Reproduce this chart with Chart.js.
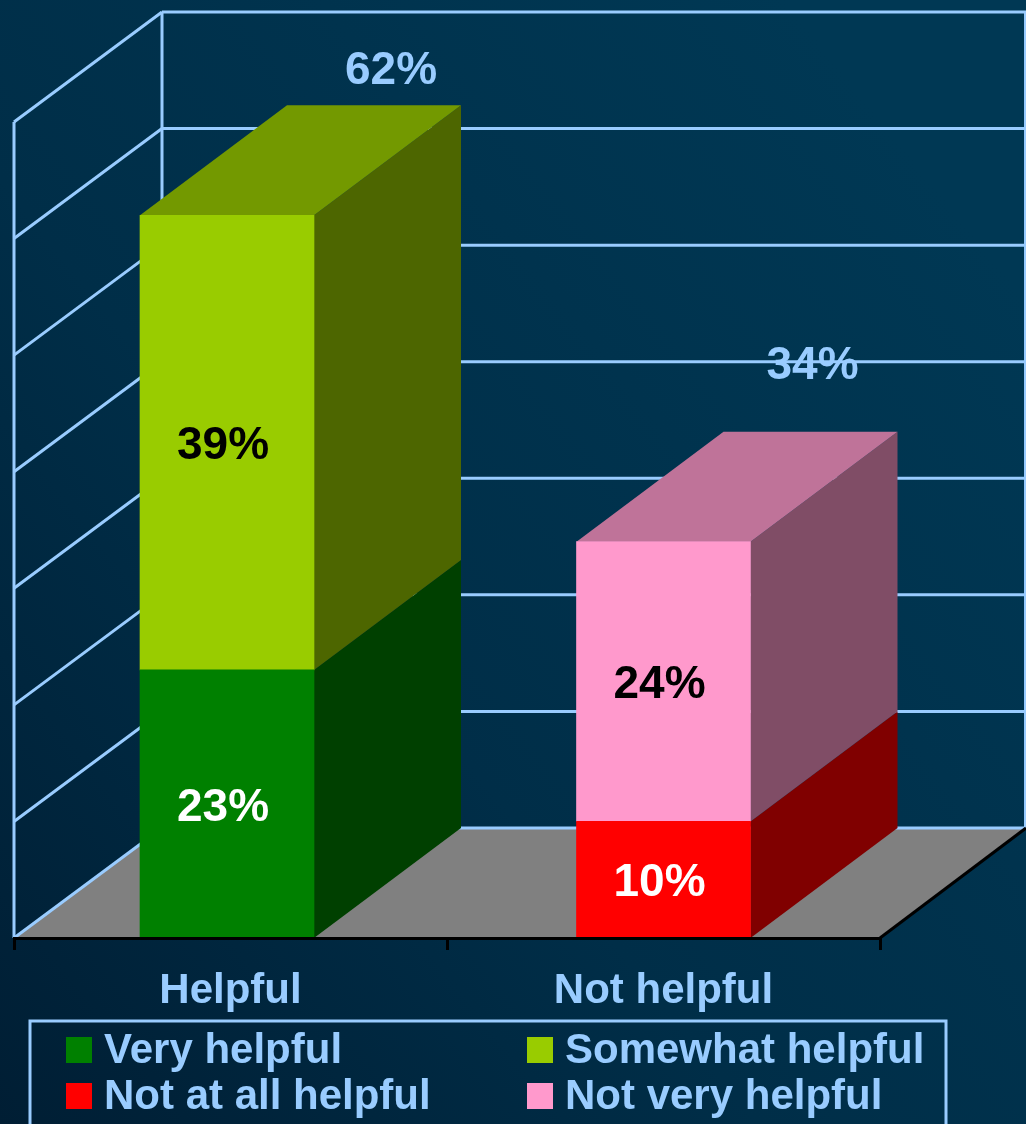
<!DOCTYPE html>
<html>
<head>
<meta charset="utf-8">
<style>
  html, body { margin: 0; padding: 0; background: #002b44; overflow: hidden; }
  canvas { display: block; }
</style>
<script src="https://cdn.jsdelivr.net/npm/chart.js@4"></script>
</head>
<body>
<canvas id="chart" width="1026" height="1124"></canvas>
<script>
// Values
const categories = ["Helpful", "Not helpful"];
const veryHelpful = [23, null];
const somewhatHelpful = [39, null];
const notAtAllHelpful = [null, 10];
const notVeryHelpful = [null, 24];
const totals = [62, 34];
const yMax = 70;
const yStep = 10;

// Look of the fake 3D box
const depthX = 147;
const depthY = 110;
const wallX = 148;                  // left corner of the back wall
const lineBlue = "#99CCFF";
const barShift = [-3.5, 0];         // first bar sits slightly left of its slot
const totalOffsetX = [164, 149];    // total label from bar centre
const totalOffsetY = [147, 178];    // total label above bar top
const labelFont = "bold 46px 'Liberation Sans', Arial, sans-serif";
const legendFont = "bold 42px 'Liberation Sans', Arial, sans-serif";

// Darken a hex colour for the side and top faces
function shade(hex, f) {
  const n = parseInt(hex.slice(1), 16);
  const r = Math.round((n >> 16 & 255) * f);
  const g = Math.round((n >> 8 & 255) * f);
  const b = Math.round((n & 255) * f);
  return "rgb(" + r + "," + g + "," + b + ")";
}

function poly(ctx, pts, fill) {
  ctx.beginPath();
  pts.forEach((p, i) => i ? ctx.lineTo(p[0], p[1]) : ctx.moveTo(p[0], p[1]));
  ctx.closePath();
  ctx.fillStyle = fill;
  ctx.fill();
}

function line(ctx, x1, y1, x2, y2, color, width) {
  ctx.beginPath();
  ctx.moveTo(x1, y1);
  ctx.lineTo(x2, y2);
  ctx.strokeStyle = color;
  ctx.lineWidth = width;
  ctx.stroke();
}

const box3d = {
  id: "box3d",
  // background
  beforeDraw(chart) {
    const ctx = chart.ctx;
    const g = ctx.createLinearGradient(0, 1124, 1026, 300);
    g.addColorStop(0, "#001e34");
    g.addColorStop(0.45, "#002e48");
    g.addColorStop(1, "#003854");
    ctx.fillStyle = g;
    ctx.fillRect(0, 0, chart.width, chart.height);
  },
  afterDatasetsUpdate(chart) {
    chart.data.datasets.forEach((ds, i) => {
      chart.getDatasetMeta(i).data.forEach((el, j) => { el.x += barShift[j]; });
    });
  },
  // floor, walls, then side and top faces behind the front of the bars
  beforeDatasetsDraw(chart) {
    const ctx = chart.ctx;
    const { left, right, bottom } = chart.chartArea;
    const y = chart.scales.y;
    const wallRight = right + 146;
    poly(ctx, [[left, bottom], [left + wallX, bottom - depthY], [wallRight, bottom - depthY], [right, bottom]], "#808080");
    y.ticks.forEach(t => {
      const py = y.getPixelForValue(t.value);
      line(ctx, left, py, left + wallX, py - depthY, lineBlue, 3);
      line(ctx, left + wallX, py - depthY, wallRight, py - depthY, lineBlue, 3);
    });
    const top = y.getPixelForValue(yMax);
    line(ctx, left, top, left, bottom, lineBlue, 3);
    line(ctx, left + wallX, top - depthY, left + wallX, bottom - depthY, lineBlue, 3);
    line(ctx, wallRight - 1, top - depthY, wallRight - 1, bottom - depthY, lineBlue, 2);
    line(ctx, right, bottom, wallRight, bottom - depthY, "#000", 3);

    chart.data.datasets.forEach((ds, i) => {
      chart.getDatasetMeta(i).data.forEach((el, j) => {
        if (ds.data[j] == null) return;
        const xr = el.x + el.width / 2;
        const xl = el.x - el.width / 2;
        poly(ctx, [[xr, el.base], [xr + depthX, el.base - depthY], [xr + depthX, el.y - depthY], [xr, el.y]], shade(ds.backgroundColor, 0.5));
        const isTop = chart.data.datasets.slice(i + 1).every(d => d.data[j] == null);
        if (isTop) {
          poly(ctx, [[xl, el.y], [xl + depthX, el.y - depthY], [xr + depthX, el.y - depthY], [xr, el.y]], shade(ds.backgroundColor, 0.75));
        }
      });
    });
  },
  // value labels and legend
  afterDraw(chart) {
    const ctx = chart.ctx;
    const y = chart.scales.y;
    ctx.save();
    ctx.textAlign = "center";
    ctx.textBaseline = "middle";
    ctx.font = labelFont;
    chart.data.datasets.forEach((ds, i) => {
      chart.getDatasetMeta(i).data.forEach((el, j) => {
        if (ds.data[j] == null) return;
        ctx.fillStyle = ds.labelColor;
        ctx.fillText(ds.data[j] + "%", el.x - 4, (el.y + el.base) / 2 + 4);
      });
    });
    ctx.fillStyle = lineBlue;
    totals.forEach((v, j) => {
      const el = chart.getDatasetMeta(0).data[j];
      ctx.fillText(v + "%", el.x + totalOffsetX[j], y.getPixelForValue(v) - totalOffsetY[j] + 3);
    });

    ctx.strokeStyle = lineBlue;
    ctx.lineWidth = 3;
    ctx.strokeRect(30, 1021, 916, 120);
    ctx.textAlign = "left";
    ctx.font = legendFont;
    // legend reads across: green, lime, then red, pink
    chart.data.datasets.forEach((ds, k) => {
      const lx = k % 2 ? 527 : 66;
      const ly = k < 2 ? 1050 : 1096;
      ctx.fillStyle = ds.backgroundColor;
      ctx.fillRect(lx, ly - 13, 26, 26);
      ctx.fillStyle = lineBlue;
      ctx.fillText(ds.label, lx + 38, ly + 1);
    });
    ctx.restore();
  }
};

new Chart(document.getElementById("chart"), {
  type: "bar",
  data: {
    labels: categories,
    datasets: [
      { label: "Very helpful", data: veryHelpful, backgroundColor: "#008000", labelColor: "#fff" },
      { label: "Somewhat helpful", data: somewhatHelpful, backgroundColor: "#99CC00", labelColor: "#000" },
      { label: "Not at all helpful", data: notAtAllHelpful, backgroundColor: "#FF0000", labelColor: "#fff" },
      { label: "Not very helpful", data: notVeryHelpful, backgroundColor: "#FF99CC", labelColor: "#000" }
    ]
  },
  options: {
    responsive: false,
    animation: false,
    events: [],
    barThickness: 174,
    layout: { padding: { left: 14, right: 146, top: 122, bottom: 0 } },
    plugins: { legend: { display: false }, tooltip: { enabled: false } },
    scales: {
      x: {
        stacked: true,
        afterFit: s => { s.height = 186; },
        border: { color: "#000", width: 3, z: 1 },
        grid: { drawOnChartArea: false, color: "#000", lineWidth: 3, tickLength: 12, z: 1 },
        ticks: {
          color: lineBlue,
          font: { family: "'Liberation Sans', Arial, sans-serif", weight: "bold", size: 42 },
          padding: 16,
          maxRotation: 0,
          autoSkip: false
        }
      },
      y: {
        stacked: true,
        display: false,
        min: 0,
        max: yMax,
        ticks: { stepSize: yStep }
      }
    }
  },
  plugins: [box3d]
});
</script>
</body>
</html>
